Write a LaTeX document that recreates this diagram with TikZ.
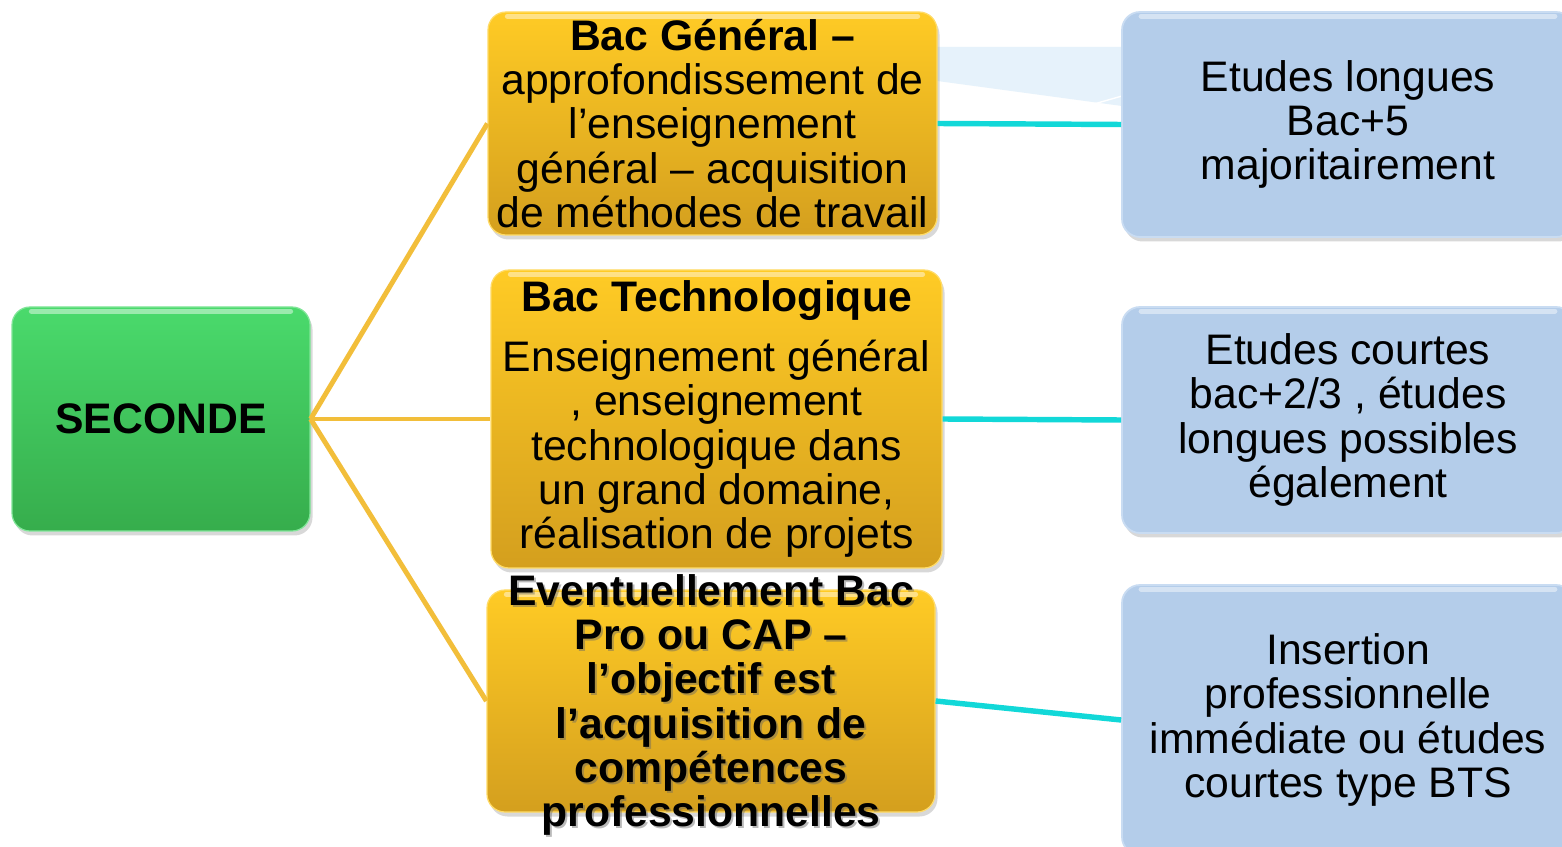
\documentclass[tikz,border=0pt]{standalone}
\usepackage{fontspec}
\setmainfont{Liberation Sans}
\usetikzlibrary{shadows}
\definecolor{goldtop}{HTML}{FFCB25}
\definecolor{goldbot}{HTML}{D49F1E}
\definecolor{greentop}{HTML}{4ADA6C}
\definecolor{greenbot}{HTML}{36AD4C}
\definecolor{bluefill}{HTML}{B4CDEA}
\definecolor{blueedge}{HTML}{C9DCF2}
\definecolor{goldline}{HTML}{F2BE3A}
\definecolor{cyanline}{HTML}{12D8D8}
\definecolor{faintblue}{HTML}{E6F2FB}
\tikzset{
  box/.style={rounded corners=0.36cm, inner sep=0pt, align=center,
    font=\fontsize{24.3}{25.1}\selectfont,
    drop shadow={opacity=0.3, shadow xshift=0.05cm, shadow yshift=-0.09cm}},
  goldbox/.style={box, top color=goldtop, bottom color=goldbot, draw=goldtop!70!white, line width=0.7pt},
  greenbox/.style={box, top color=greentop, bottom color=greenbot, draw=greentop!70!white, line width=0.7pt},
  bluebox/.style={box, fill=bluefill, draw=blueedge, line width=1pt},
  txt/.style={align=center, inner sep=0pt, font=\fontsize{24.3}{25.1}\selectfont},
  txtshadow/.style={txt, text=black!60, opacity=0.45},
  goldlink/.style={draw=goldline, line width=2.8pt},
  cyanlink/.style={draw=cyanline, line width=3.1pt},
  gloss/.style={white, opacity=0.45, line width=0.1cm, line cap=round}
}
\begin{document}
\begin{tikzpicture}[x=0.02cm, y=-0.02cm]
\useasboundingbox (0,0) rectangle (1562,847);
\clip (0,0) rectangle (1562,847);
\fill[white] (0,0) rectangle (1562,847);
% faint artifact
\fill[faintblue] (930,47) -- (1122,47) -- (1122,106) -- (930,80) -- cycle;
\draw[white, line width=0.8pt] (1080,108) -- (1122,96);
% boxes
\node[greenbox, minimum width=298*0.02cm, minimum height=224*0.02cm] (sec) at (161,419) {\bfseries SECONDE};
\node[goldbox, minimum width=449*0.02cm, minimum height=223*0.02cm] (g1) at (712.5,123.5)
  {\textbf{Bac Général –}\\approfondissement de\\l’enseignement\\général – acquisition\\de méthodes de travail};
\node[goldbox, minimum width=451*0.02cm, minimum height=298*0.02cm] (g2) at (716.5,419)
  {\textbf{Bac Technologique}\\[0.32cm]Enseignement général\\, enseignement\\technologique dans\\un grand domaine,\\réalisation de projets};
\node[goldbox, minimum width=448*0.02cm, minimum height=222*0.02cm] (g3) at (711,701) {};
\node[bluebox, minimum width=452*0.02cm, minimum height=225*0.02cm] (b1) at (1348,124.5)
  {Etudes longues\\Bac+5\\majoritairement};
\node[bluebox, minimum width=452*0.02cm, minimum height=226*0.02cm] (b2) at (1348,420)
  {Etudes courtes\\bac+2/3 , études\\longues possibles\\également};
\node[bluebox, minimum width=452*0.02cm, minimum height=270*0.02cm] (b3) at (1348,720)
  {Insertion\\professionnelle\\immédiate ou études\\courtes type BTS};
% gloss highlights
\foreach \b in {sec,g1,g2,g3,b1,b2,b3}{
  \draw[gloss] ([xshift=0.4cm,yshift=-0.1cm]\b.north west) -- ([xshift=-0.4cm,yshift=-0.1cm]\b.north east);
}
% overflowing bold text of third gold box
\node[txtshadow] (g3s) at (713,707) {\bfseries Eventuellement Bac\\\bfseries Pro ou CAP –\\\bfseries l’objectif est\\\bfseries l’acquisition de\\\bfseries compétences\\\bfseries professionnelles};
\node[txt] (g3t) at (711,705) {\bfseries Eventuellement Bac\\\bfseries Pro ou CAP –\\\bfseries l’objectif est\\\bfseries l’acquisition de\\\bfseries compétences\\\bfseries professionnelles};
% connectors
\draw[goldlink] (sec.east) -- (g1.west);
\draw[goldlink] (sec.east) -- (g2.west);
\draw[goldlink] (sec.east) -- (g3.west);
\draw[cyanlink] (g1.east) -- (b1.west);
\draw[cyanlink] (g2.east) -- (b2.west);
\draw[cyanlink] (g3.east) -- (b3.west);
\end{tikzpicture}
\end{document}
